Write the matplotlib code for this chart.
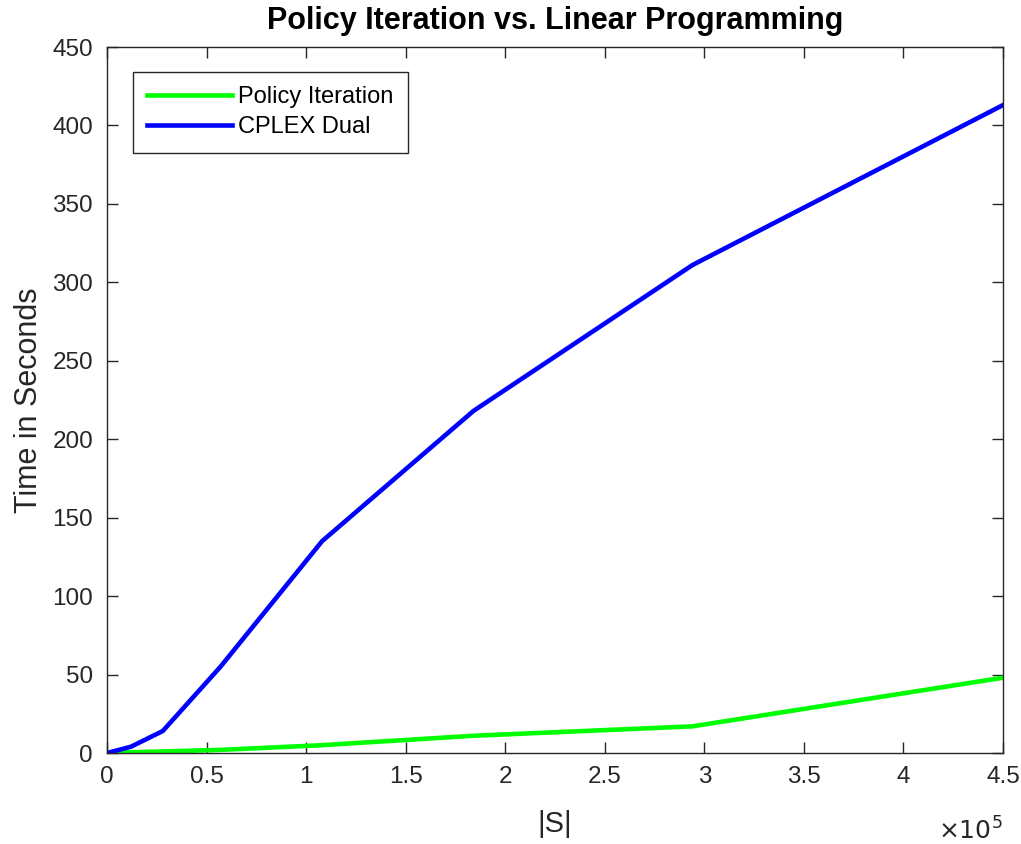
import numpy as np
import matplotlib.pyplot as plt

plt.rcParams['font.family'] = ['Liberation Sans', 'DejaVu Sans']

# data
n_states = [0, 12000, 28000, 57000, 108000, 184000, 294000, 450000]
policy_iter = [0, 0.5, 1, 2, 5, 11, 17, 48]
cplex_dual = [0, 4, 14, 55, 135, 218, 311, 413]

xticks = np.arange(0, 4.51, 0.5)
xtick_labels = ['0', '0.5', '1', '1.5', '2', '2.5', '3', '3.5', '4', '4.5']
yticks = np.arange(0, 451, 50)

fig = plt.figure(figsize=(10.21, 8.44), dpi=100)
ax = fig.add_axes([0.1048, 0.1078, 0.8776, 0.8365])

x = np.array(n_states) / 1e5
ax.plot(x, policy_iter, color='#00ff00', lw=3.3, label='Policy Iteration')
ax.plot(x, cplex_dual, color='#0000ff', lw=3.3, label='CPLEX Dual')

ax.set_xlim(0, 4.5)
ax.set_ylim(0, 450)
ax.set_xticks(xticks)
ax.set_xticklabels(xtick_labels)
ax.set_yticks(yticks)

ax.tick_params(direction='in', top=True, right=True, length=8, width=1,
               colors='#262626', labelsize=17.5)
ax.tick_params(axis='y', pad=10)
ax.tick_params(axis='x', pad=9)
for s in ax.spines.values():
    s.set_color('#262626')
    s.set_linewidth(1)

ax.set_title('Policy Iteration vs. Linear Programming', fontsize=22,
             fontweight='bold', pad=13)
ax.set_xlabel('|S|', fontsize=21, color='#262626', labelpad=16)
ax.set_ylabel('Time in Seconds', fontsize=22, color='#262626', labelpad=6)

ax.text(1.0, -0.11, r'$\times10^{5}$', transform=ax.transAxes,
        ha='right', va='center', fontsize=18, color='#262626',
        math_fontfamily='dejavusans')

leg = ax.legend(loc='upper left', bbox_to_anchor=(0.029, 0.9646),
                fontsize=17, fancybox=False, edgecolor='#262626',
                framealpha=1, handlelength=3.6, handletextpad=0.25,
                borderpad=0.6, labelspacing=0.35, borderaxespad=0)
leg.get_frame().set_linewidth(1)

fig.savefig('out.png', dpi=100)
